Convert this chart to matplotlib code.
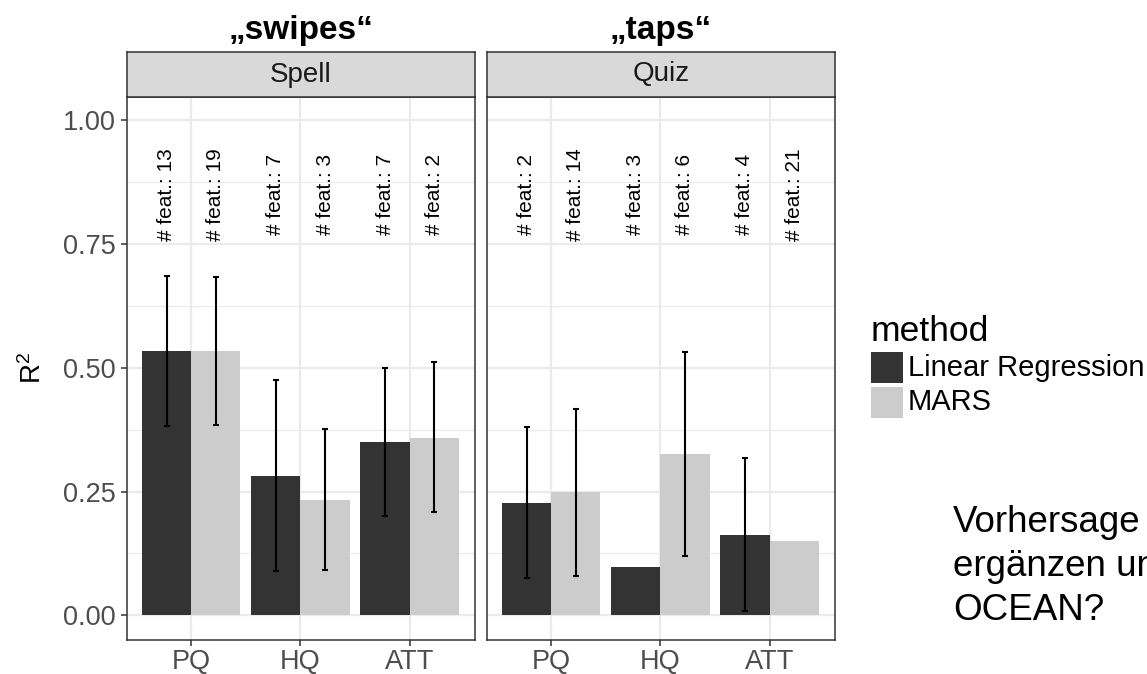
import numpy as np
import matplotlib as mpl
import matplotlib.pyplot as plt
from matplotlib.patches import Rectangle

# Data
categories = ['PQ', 'HQ', 'ATT']
panels = ['Spell', 'Quiz']
titles = ['„swipes“', '„taps“']
methods = ['Linear Regression', 'MARS']

spell_lr = [0.534, 0.282, 0.350]
spell_mars = [0.534, 0.232, 0.359]
spell_lr_lo = [0.382, 0.089, 0.200]
spell_lr_hi = [0.686, 0.476, 0.499]
spell_mars_lo = [0.384, 0.091, 0.208]
spell_mars_hi = [0.684, 0.377, 0.511]
spell_feat_lr = [13, 7, 7]
spell_feat_mars = [19, 3, 2]

quiz_lr = [0.227, 0.098, 0.162]
quiz_mars = [0.248, 0.325, 0.150]
quiz_lr_lo = [0.075, np.nan, 0.009]
quiz_lr_hi = [0.380, np.nan, 0.318]
quiz_mars_lo = [0.079, 0.120, np.nan]
quiz_mars_hi = [0.417, 0.531, np.nan]
quiz_feat_lr = [2, 3, 4]
quiz_feat_mars = [14, 6, 21]

yticks = [0.0, 0.25, 0.5, 0.75, 1.0]
ytick_labels = ['0.00', '0.25', '0.50', '0.75', '1.00']

side_text = ['Vorhersage', 'ergänzen und', 'OCEAN?']

colors = ['#333333', '#CCCCCC']

mpl.rcParams['font.family'] = ['Liberation Sans', 'DejaVu Sans']
mpl.rcParams['mathtext.fontset'] = 'custom'
mpl.rcParams['mathtext.rm'] = 'Liberation Sans'
mpl.rcParams['mathtext.it'] = 'Liberation Sans'

W, H = 1147, 674
fig = plt.figure(figsize=(W / 100, H / 100), dpi=100)


def fx(px):
    return px / W


def fy(py):
    return 1 - py / H


panel_data = [
    (spell_lr, spell_mars, spell_lr_lo, spell_lr_hi, spell_mars_lo, spell_mars_hi,
     spell_feat_lr, spell_feat_mars),
    (quiz_lr, quiz_mars, quiz_lr_lo, quiz_lr_hi, quiz_mars_lo, quiz_mars_hi,
     quiz_feat_lr, quiz_feat_mars),
]
lefts = [127, 487]
pw = 348
top, bottom = 97, 640
strip_top = 52

for i, (lr, mars, lr_lo, lr_hi, m_lo, m_hi, f_lr, f_m) in enumerate(panel_data):
    ax = fig.add_axes([fx(lefts[i]), fy(bottom), pw / W, (bottom - top) / H])
    x = np.arange(1, len(categories) + 1)
    w = 0.45
    ax.bar(x - w / 2, lr, width=w, color=colors[0], zorder=2)
    ax.bar(x + w / 2, mars, width=w, color=colors[1], zorder=2)

    for xs, vals, lo, hi in [(x - w / 2, lr, lr_lo, lr_hi), (x + w / 2, mars, m_lo, m_hi)]:
        vals = np.array(vals)
        lo = np.array(lo)
        hi = np.array(hi)
        ok = ~np.isnan(lo)
        ax.errorbar(xs[ok], vals[ok], yerr=[vals[ok] - lo[ok], hi[ok] - vals[ok]],
                    fmt='none', ecolor='black', elinewidth=1.5, capsize=2.3,
                    capthick=1.5, zorder=3)

    for xs, feats in [(x - w / 2, f_lr), (x + w / 2, f_m)]:
        for xx, n in zip(xs, feats):
            ax.text(xx, 0.85, f'# feat.: {n}', rotation=90, ha='center',
                    va='center', fontsize=15, color='black', zorder=4)

    ax.set_xlim(0.41, 3.6)
    ax.set_ylim(-0.05, 1.047)
    ax.set_xticks(x)
    ax.set_xticklabels(categories)
    ax.set_yticks(yticks)
    ax.set_yticks([0.125, 0.375, 0.625, 0.875], minor=True)
    ax.grid(which='major', color='#EBEBEB', lw=1.6, zorder=0)
    ax.grid(which='minor', axis='y', color='#EBEBEB', lw=0.8, zorder=0)
    ax.set_axisbelow(True)
    ax.tick_params(axis='both', which='major', length=4, width=1.1, color='#333333',
                   labelsize=19.5, labelcolor='#4D4D4D', pad=4)
    ax.tick_params(axis='x', which='major', pad=2.5)
    ax.tick_params(axis='y', which='minor', length=0)
    if i == 0:
        ax.set_yticklabels(ytick_labels)
    else:
        ax.tick_params(axis='y', which='major', left=False, labelleft=False)
    for s in ax.spines.values():
        s.set_color('#333333')
        s.set_linewidth(1.1)

    # facet strip
    sax = fig.add_axes([fx(lefts[i]), fy(top), pw / W, (top - strip_top) / H])
    sax.set_facecolor('#D9D9D9')
    sax.set_xticks([])
    sax.set_yticks([])
    for s in sax.spines.values():
        s.set_color('#333333')
        s.set_linewidth(1.1)
    sax.text(0.5, 0.5, panels[i], ha='center', va='center', fontsize=20,
             color='#1A1A1A', transform=sax.transAxes)

    fig.text(fx(lefts[i] + pw / 2), fy(30), titles[i], ha='center', va='center',
             fontsize=24, fontweight='bold', color='black')

# y axis label
fig.text(fx(33), fy(368), 'R$^2$', rotation=90, ha='center', va='center',
         fontsize=20, color='black')

# legend
fig.text(fx(871), fy(341), 'method', ha='left', va='baseline', fontsize=25.5,
         color='black')
box_tops = [352, 387]
for c, lab, bt in zip(colors, methods, box_tops):
    fig.add_artist(Rectangle((fx(871), fy(bt + 31)), 32 / W, 31 / H, facecolor=c,
                             edgecolor='none', transform=fig.transFigure))
    fig.text(fx(908), fy(bt + 15.5), lab, ha='left', va='center', fontsize=21,
             color='black')

# side note (runs off the right edge, as in the original slide)
for line, base in zip(side_text, [532, 576, 620]):
    fig.text(fx(953), fy(base), line, ha='left', va='baseline', fontsize=26.5,
             color='black')

plt.savefig('out.png', dpi=100)
